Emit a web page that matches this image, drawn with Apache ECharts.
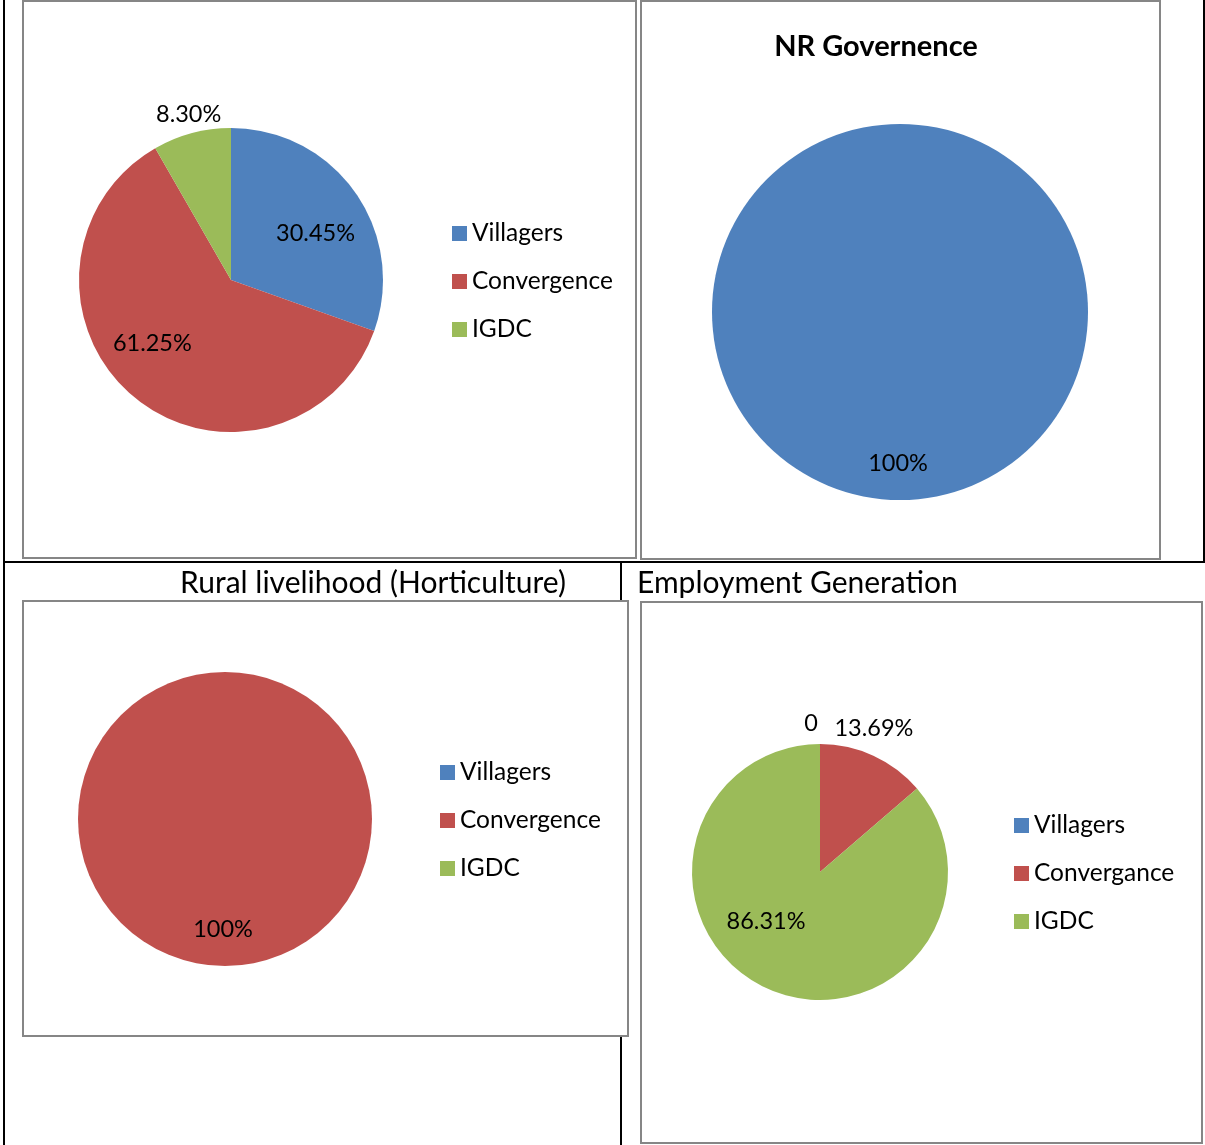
<!DOCTYPE html>
<html><head><meta charset="utf-8">
<script src="https://cdn.jsdelivr.net/npm/echarts@6/dist/echarts.min.js"></script>
<style>html,body{margin:0;padding:0;background:#fff}#c{width:1205px;height:1145px}</style>
</head><body><div id="c"></div>
<script>
// ---- data ----
const categories1 = ['Villagers', 'Convergence', 'IGDC'];
const values1 = [30.45, 61.25, 8.30];
const title2 = 'NR Governence';
const categories2 = ['Villagers'];
const values2 = [100];
const title3 = 'Rural livelihood (Horticulture)';
const categories3 = ['Villagers', 'Convergence', 'IGDC'];
const values3 = [0, 100, 0];
const title4 = 'Employment Generation';
const categories4 = ['Villagers', 'Convergance', 'IGDC'];
const values4 = [0, 13.69, 86.31];

// ---- styles ----
const FONT = 'Lato';
const BLUE = '#4F81BD', RED = '#C0504D', GREEN = '#9BBB59';
const colorOf = { Villagers: BLUE, Convergence: RED, Convergance: RED, IGDC: GREEN };
const LABEL_SIZE = 23.5, LEGEND_SIZE = 24.5, TITLE_SIZE = 30, TITLE_BOLD_SIZE = 29;

// label nudges (style only): [seriesIndex][dataIndex] -> [dx, dy]
const labelNudge = [
  [[20, -1], [-28, 3], [-22, -89]],
  [[-2, 54]],
  [[0, 0], [-2, 34], [0, 0]],
  [[-9, -82], [26, -83], [-26, -11]]
];

function fmt(v) { return v === 0 ? '0' : (Number.isInteger(v) ? v + '%' : v.toFixed(2) + '%'); }

function pie(idx, cats, vals, center, radius, showZero) {
  return {
    type: 'pie', z: 2, center: center, radius: radius, startAngle: 90, clockwise: true,
    avoidLabelOverlap: false, silent: true, animation: false,
    stillShowZeroSum: true, minShowLabelAngle: 0,
    itemStyle: { borderWidth: 0 },
    label: {
      show: true, position: 'inside', color: '#000', fontFamily: FONT, fontSize: LABEL_SIZE,
      formatter: p => (p.value === 0 && !showZero) ? '' : fmt(p.value)
    },
    labelLine: { show: false },
    labelLayout: function (p) {
      const n = (labelNudge[idx] || [])[p.dataIndex] || [0, 0];
      return { dx: n[0], dy: n[1] };
    },
    data: cats.map((c, i) => ({ name: c, value: vals[i], itemStyle: { color: colorOf[c] } }))
  };
}

function legend(cats, left, top) {
  return {
    data: cats, orient: 'vertical', left: left, top: top, selectedMode: false, padding: 0,
    icon: 'rect', itemWidth: 15, itemHeight: 15, itemGap: 23,
    textStyle: { fontFamily: FONT, fontSize: LEGEND_SIZE, color: '#000', lineHeight: 24 }
  };
}

const blackLine = (x1, y1, x2, y2) => ({ type: 'line', z: 0, shape: { x1, y1, x2, y2 }, style: { stroke: '#000', lineWidth: 2 } });
const box = (x, y, w, h) => ({ type: 'rect', z: 1, shape: { x, y, width: w, height: h }, style: { fill: '#fff', stroke: '#868686', lineWidth: 2 } });
const text = (t, x, y, align, bold) => ({ type: 'text', z: 5, x, y, style: { text: t, fill: '#000', font: (bold ? 'bold ' + TITLE_BOLD_SIZE : TITLE_SIZE) + 'px ' + FONT, textAlign: align, textVerticalAlign: 'middle' } });

const chart = echarts.init(document.getElementById('c'), null, { renderer: 'canvas' });
chart.setOption({
  backgroundColor: '#fff',
  animation: false,
  graphic: [
    blackLine(4, 0, 4, 1145),
    blackLine(4, 562, 1205, 562),
    blackLine(1204, 0, 1204, 562),
    blackLine(621, 562, 621, 1145),
    box(23, 1, 613, 557),
    box(641, 1, 519, 558),
    box(23, 601, 605, 435),
    box(641, 602, 561, 541),
    text(title2, 876, 47, 'center', true),
    text(title3, 373, 583, 'center', false),
    text(title4, 637, 583, 'left', false)
  ],
  legend: [
    legend(categories1, 452, 221),
    legend(categories3, 440, 760),
    legend(categories4, 1014, 813)
  ],
  series: [
    pie(0, categories1, values1, [231, 280], 152, false),
    pie(1, categories2, values2, [900, 312], 188, false),
    pie(2, categories3, values3, [225, 819], 147, false),
    pie(3, categories4, values4, [820, 872], 128, true)
  ]
});
</script></body></html>
